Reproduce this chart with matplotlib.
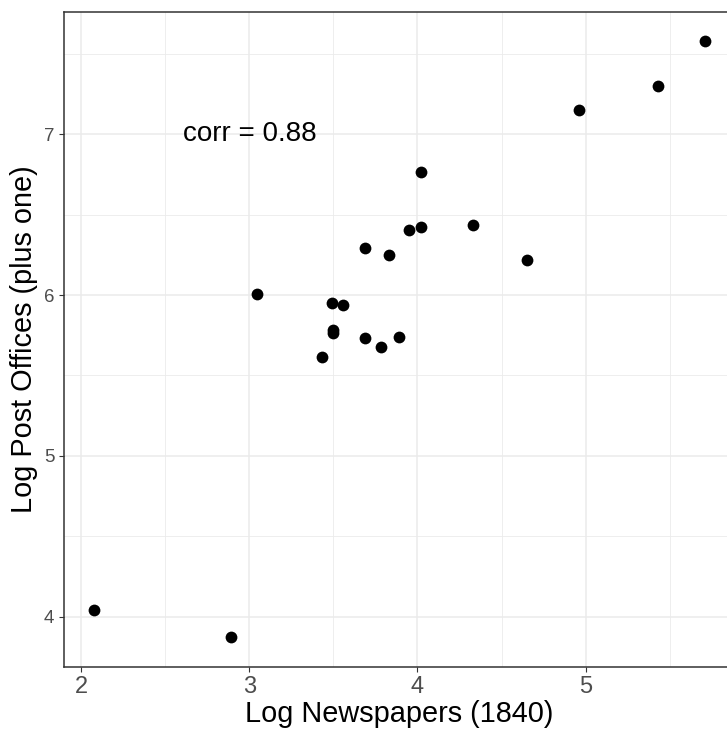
import matplotlib
matplotlib.use("Agg")
import matplotlib.pyplot as plt
import numpy as np

# log newspapers (1840) vs log post offices (plus one)
log_news = [2.077, 2.889, 3.043, 3.432, 3.493, 3.557, 3.496, 3.496, 3.689, 3.689,
            3.783, 3.830, 3.891, 3.949, 4.023, 4.023, 4.330, 4.652, 4.962, 5.431, 5.710]
log_post = [4.044, 3.872, 6.006, 5.615, 5.953, 5.939, 5.784, 5.764, 6.294, 5.731,
            5.675, 6.247, 5.742, 6.405, 6.425, 6.767, 6.437, 6.219, 7.152, 7.298, 7.578]
corr_label = "corr = 0.88"

plt.rcParams['font.family'] = ['Liberation Sans', 'DejaVu Sans']

fig = plt.figure(figsize=(7.27, 7.36), dpi=100)
ax = fig.add_axes([0.0876, 0.0938, 0.924, 0.8903])

ax.scatter(log_news, log_post, s=72, color="black", zorder=3, linewidths=0)
ax.text(3.0, 7.0, corr_label, ha="center", va="center", fontsize=20, color="black")

xr = max(log_news) - min(log_news)
yr = max(log_post) - min(log_post)
ax.set_xlim(min(log_news) - 0.05 * xr, max(log_news) + 0.05 * xr)
ax.set_ylim(min(log_post) - 0.05 * yr, max(log_post) + 0.05 * yr)

ax.set_xticks([2, 3, 4, 5])
ax.set_yticks([4, 5, 6, 7])
ax.set_xticks([2.5, 3.5, 4.5, 5.5], minor=True)
ax.set_yticks([4.5, 5.5, 6.5, 7.5], minor=True)
ax.grid(True, which="major", color="#EBEBEB", linewidth=1.1, zorder=0)
ax.grid(True, which="minor", color="#EBEBEB", linewidth=0.6, zorder=0)
ax.set_axisbelow(True)

ax.tick_params(which="major", length=3.8, width=0.8, color="#333333")
ax.tick_params(which="minor", length=0)
ax.tick_params(axis="x", labelsize=17, labelcolor="#4D4D4D", pad=3)
ax.tick_params(axis="y", labelsize=13.5, labelcolor="#4D4D4D", pad=3)

for sp in ax.spines.values():
    sp.set_color("#333333")
    sp.set_linewidth(1.1)

ax.set_xlabel("Log Newspapers (1840)", fontsize=20.8, labelpad=1)
ax.set_ylabel("Log Post Offices (plus one)", fontsize=20.8, labelpad=4)

fig.savefig("out.png", dpi=100)
